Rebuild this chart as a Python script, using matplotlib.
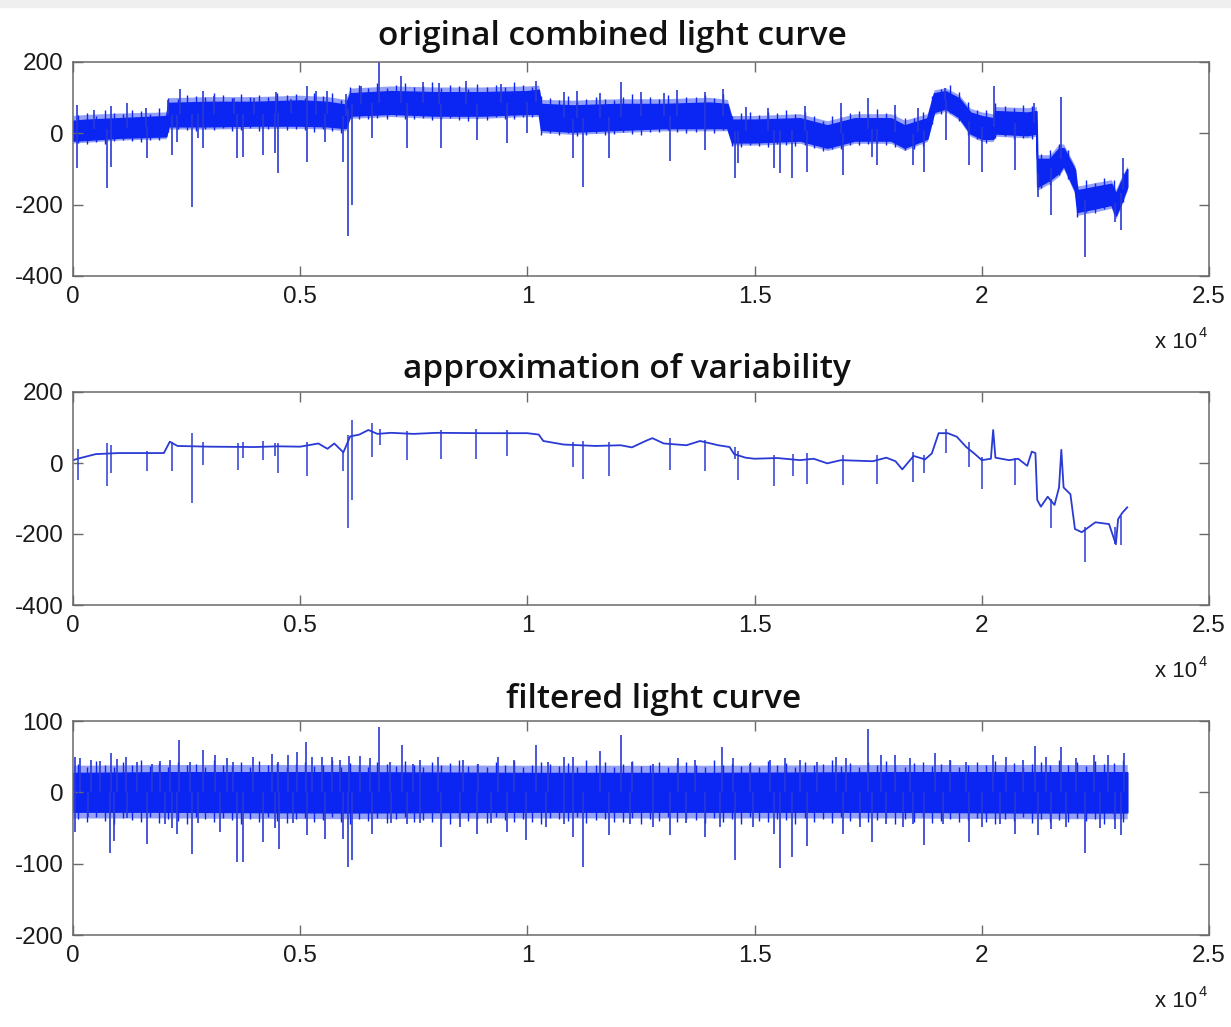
import numpy as np
import matplotlib
matplotlib.use("Agg")
import matplotlib.pyplot as plt
from matplotlib.patches import Rectangle

plt.rcParams["axes.unicode_minus"] = False

# ---------------- data (x in thousands of samples) ----------------
titles = ["original combined light curve", "approximation of variability", "filtered light curve"]
xtick_vals = [0, 5000, 10000, 15000, 20000, 25000]
xtick_labels = ["0", "0.5", "1", "1.5", "2", "2.5"]
yticks_top = [-400, -200, 0, 200]
yticks_bot = [-200, -100, 0, 100]

# panel 1: dense band (solid core edges and outer fringe edges)
p1_x = [0, 0.3, 1.0, 2.05, 2.1, 3.0, 4.0, 5.0, 5.6, 6.0, 6.1, 7.0, 8.0, 9.0, 10.0, 10.25, 10.3,
        11.0, 12.0, 13.0, 14.0, 14.4, 14.5, 15.0, 16.0, 16.6, 17.2, 18.0, 18.3, 18.8, 18.95, 19.2,
        19.5, 19.75, 20.0, 20.25, 20.3, 21.0, 21.2, 21.22, 21.5, 21.7, 21.8, 22.05, 22.1, 22.5,
        22.85, 22.95, 23.05, 23.2]
p1_up = [35, 38, 42, 48, 85, 88, 88, 92, 88, 80, 112, 118, 115, 115, 118, 122, 82,
         78, 82, 82, 86, 82, 38, 38, 42, 22, 42, 42, 22, 42, 112, 118,
         98, 58, 48, 42, 62, 58, 62, -72, -72, -42, -42, -102, -160, -150,
         -142, -170, -140, -100]
p1_lo = [-20, -18, -12, -8, 20, 20, 22, 22, 20, 15, 50, 55, 50, 50, 55, 55, 10,
         5, 10, 15, 15, 15, -25, -25, -20, -40, -20, -20, -40, -15, 60, 70,
         45, 0, -15, -15, 0, -5, 0, -150, -130, -110, -90, -160, -220, -210,
         -200, -230, -200, -150]
p1_fup = [50, 53, 57, 60, 100, 103, 103, 107, 103, 95, 127, 133, 130, 130, 133, 135, 95,
          93, 97, 97, 101, 95, 50, 50, 55, 35, 55, 55, 37, 55, 122, 128,
          108, 70, 60, 55, 75, 72, 75, -60, -60, -30, -30, -90, -148, -138,
          -130, -158, -128, -92]
p1_flo = [-27, -25, -19, -15, 12, 12, 14, 14, 12, 7, 42, 47, 42, 42, 47, 47, 2,
          -3, 2, 7, 7, 7, -33, -33, -28, -48, -28, -28, -48, -23, 52, 62,
          37, -8, -23, -23, -8, -13, -8, -160, -140, -120, -100, -170, -230, -220,
          -210, -240, -210, -160]
p1_dips_x = [0.09, 0.74, 0.83, 1.63, 2.17, 2.28, 2.61, 2.76, 2.87, 3.60, 3.74, 4.19, 4.45, 4.52,
             5.16, 5.54, 5.95, 6.06, 6.15, 6.59, 7.34, 8.09, 8.89, 9.55, 9.99, 11.0, 11.22, 11.8,
             13.14, 13.9, 14.57, 14.64, 15.42, 15.56, 15.82, 16.15, 16.94, 17.58, 17.70, 18.48,
             18.72, 19.21, 19.71, 20.0, 20.73, 21.23, 21.52, 22.27, 22.93, 23.06]
p1_dips_y = [-97, -153, -94, -69, -61, -24, -206, -13, -42, -69, -66, -61, -56, -112,
             -80, -24, -80, -288, -201, -14, -42, -42, -19, -27, 1, -69, -150, -69,
             -77, -47, -125, -83, -97, -111, -125, -108, -117, -66, -89, -89,
             -108, -19, -89, -108, -103, -178, -229, -346, -248, -271]
p1_peaks_x = [0.09, 0.46, 0.83, 1.18, 1.6, 2.1, 2.35, 2.87, 3.1, 3.55, 3.99, 4.46, 4.8, 5.14,
              5.35, 5.6, 6.0, 6.33, 6.74, 7.21, 7.7, 8.05, 8.65, 9.43, 10.2, 10.8, 11.1, 11.6,
              12.06, 12.5, 13.0, 13.3, 13.9, 14.3, 14.8, 15.3, 16.1, 16.9, 17.5, 18.1, 18.6,
              19.2, 20.26, 21.15, 21.75, 23.1]
p1_peaks_y = [80, 65, 77, 84, 70, 93, 123, 119, 105, 100, 100, 115, 95, 134,
              118, 119, 110, 134, 200, 162, 144, 140, 147, 139, 147, 116, 120, 112,
              144, 115, 112, 122, 116, 125, 75, 72, 78, 84, 98, 80, 72,
              127, 133, 84, 102, -70]
# small comb teeth along the band edges, sampled every 200 points from 100 to 23100
p1_teeth_up = [14, 20, 10, 24, 16, 12, 22, 18, 9, 25, 15, 11, 21, 17, 13, 26, 19, 10, 23, 14,
               18, 12, 24, 16, 20, 9, 22, 15, 27, 11, 17, 21, 13, 25, 10, 19, 23, 14, 16, 28,
               12, 20, 18, 9, 24, 15, 21, 13, 26, 17, 11, 22, 19, 14, 25, 10, 18, 23, 16, 12,
               20, 27, 13, 21, 15, 24, 11, 19, 17, 22, 14, 26, 10, 18, 23, 12, 20, 16, 25, 13,
               21, 17, 9, 24, 15, 19, 22, 11, 26, 14, 18, 20, 12, 23, 16, 10, 25, 17, 21, 13,
               19, 24, 15, 11, 22, 18, 14, 26, 12, 20, 16, 23, 10, 19, 25, 15]
p1_teeth_lo = [9, 13, 7, 15, 10, 6, 12, 14, 8, 11, 16, 7, 10, 13, 9, 12, 6, 14, 11, 8,
               15, 10, 7, 13, 9, 12, 16, 8, 11, 14, 6, 10, 13, 9, 15, 7, 12, 11, 8, 14,
               10, 6, 13, 16, 9, 12, 7, 11, 14, 8, 10, 15, 9, 13, 6, 12, 11, 7, 14, 10,
               8, 13, 16, 9, 11, 7, 12, 15, 10, 8, 14, 6, 11, 13, 9, 12, 16, 7, 10, 14,
               8, 11, 13, 6, 15, 9, 12, 10, 7, 14, 11, 8, 13, 16, 9, 12, 6, 10, 15, 8,
               11, 14, 7, 13, 9, 12, 10, 16, 8, 11, 14, 6, 13, 9, 12, 10]

# panel 2: smooth variability curve
p2_x = [0, 0.1, 0.5, 1.0, 2.0, 2.13, 2.3, 3.0, 4.0, 4.5, 5.0, 5.4, 5.6, 5.75, 5.95, 6.1, 6.3,
        6.5, 6.7, 7.0, 7.5, 8.0, 9.0, 10.0, 10.25, 10.35, 10.8, 11.5, 12.05, 12.3, 12.6, 12.75,
        13.0, 13.5, 13.8, 14.2, 14.45, 14.55, 14.8, 15.0, 15.5, 16.0, 16.3, 16.6, 16.9, 17.6,
        17.9, 18.1, 18.25, 18.5, 18.75, 18.9, 19.05, 19.25, 19.45, 19.65, 19.85, 20.0, 20.2,
        20.25, 20.3, 20.6, 20.8, 21.0, 21.1, 21.18, 21.22, 21.3, 21.45, 21.6, 21.7, 21.75,
        21.8, 21.95, 22.05, 22.2, 22.5, 22.8, 22.95, 23.0, 23.1, 23.2]
p2_y = [8, 12, 25, 28, 28, 60, 48, 46, 45, 47, 46, 55, 40, 55, 30, 75, 80,
        93, 82, 85, 82, 85, 84, 84, 80, 62, 52, 48, 50, 44, 62, 70,
        55, 50, 62, 50, 45, 25, 15, 12, 14, 8, 12, -1, 8, 5,
        15, 5, -18, 20, 10, 27, 84, 84, 74, 46, 25, 8, 12,
        93, 15, 8, 12, -8, 32, 28, -104, -123, -95, -118, -69, 37,
        -69, -88, -186, -195, -167, -172, -229, -158, -139, -125]
p2_spk_x = [0.10, 0.74, 0.83, 1.63, 2.17, 2.61, 2.87, 3.64, 3.74, 4.19, 4.45, 4.52, 5.16, 5.95,
            6.06, 6.15, 6.59, 6.75, 7.34, 8.09, 8.87, 9.55, 11.0, 11.22, 11.8, 13.14, 13.9,
            14.57, 14.64, 15.42, 15.84, 16.15, 16.94, 17.7, 18.48, 18.72, 19.21, 19.71, 20.0,
            20.73, 21.52, 22.27, 22.93, 23.06]
p2_spk_lo = [-48, -66, -29, -23, -23, -113, -6, -20, 15, 8, 20, -29, -38, -23,
             -184, -104, 18, 50, 8, 12, 10, 19, -10, -46, -38, -20, -23,
             10, -48, -65, -37, -59, -62, -59, -54, -29, 27, -11, -74,
             -62, -184, -278, -229, -232]
p2_spk_hi = [40, 55, 50, 35, 60, 84, 60, 55, 60, 62, 55, 55, 60, 35,
             80, 121, 114, 95, 90, 92, 95, 92, 60, 62, 58, 70, 65,
             45, 35, 22, 25, 28, 22, 22, 30, 22, 95, 60, 18,
             15, -100, -180, -180, -150]

# panel 3: filtered curve (band about zero)
p3_x = [0, 2.0, 6.0, 10.0, 14.0, 18.0, 21.0, 23.2]
p3_up = [27, 28, 28, 27, 27, 28, 28, 28]
p3_lo = [-27, -27, -28, -27, -27, -27, -28, -28]
p3_fup = [38, 39, 39, 38, 38, 39, 39, 39]
p3_flo = [-36, -36, -37, -36, -36, -36, -37, -37]
p3_peaks_x = [0.04, 0.15, 0.39, 0.59, 0.83, 0.96, 1.16, 1.40, 1.73, 1.91, 2.13, 2.34, 2.57, 2.87,
              3.12, 3.38, 3.53, 3.97, 4.37, 4.52, 4.74, 4.94, 5.12, 5.25, 5.47, 5.69, 5.87, 6.08,
              6.31, 6.54, 6.74, 6.97, 7.23, 7.49, 7.63, 8.04, 8.59, 8.92, 9.36, 9.70, 10.2, 10.46,
              10.8, 11.0, 11.6, 12.06, 12.3, 12.77, 13.32, 13.68, 14.29, 14.53, 14.9, 15.34,
              15.67, 16.0, 16.37, 16.8, 17.02, 17.5, 17.79, 18.08, 18.41, 18.97, 19.3, 19.66,
              20.25, 20.54, 20.9, 21.16, 21.42, 21.75, 22.08, 22.48, 22.77, 23.14]
p3_peaks_y = [50, 48, 46, 44, 55, 47, 50, 42, 40, 44, 46, 73, 42, 59,
              52, 48, 43, 49, 54, 42, 53, 56, 71, 50, 50, 50, 45, 51,
              51, 48, 92, 43, 67, 40, 45, 50, 45, 40, 50, 45, 67, 42,
              50, 50, 58, 80, 42, 40, 48, 45, 64, 48, 40, 45,
              48, 45, 42, 50, 48, 89, 52, 53, 48, 55, 45, 42,
              53, 50, 45, 65, 50, 64, 48, 53, 52, 55]
p3_dips_x = [0.05, 0.33, 0.81, 0.90, 1.18, 1.63, 2.03, 2.17, 2.28, 2.61, 2.76, 3.23, 3.60, 3.74,
             4.19, 4.45, 4.53, 4.85, 5.16, 5.54, 5.95, 6.06, 6.15, 6.59, 7.0, 7.34, 7.63, 8.09,
             8.52, 8.90, 9.2, 9.55, 9.96, 10.4, 10.8, 11.0, 11.22, 11.8, 12.25, 12.77, 13.14,
             13.5, 13.9, 14.23, 14.57, 14.96, 15.42, 15.56, 15.82, 16.15, 16.94, 17.32, 17.58,
             17.9, 18.27, 18.48, 18.72, 19.15, 19.71, 20.0, 20.4, 20.73, 21.23, 21.52, 21.86,
             22.27, 22.6, 22.93, 23.06]
p3_dips_y = [-55, -34, -85, -68, -36, -73, -45, -50, -58, -87, -43, -55, -97, -97,
             -69, -50, -80, -43, -60, -65, -65, -104, -95, -58, -43, -45, -43, -76,
             -48, -58, -43, -55, -67, -48, -45, -62, -104, -60, -45, -48, -60,
             -43, -62, -48, -95, -48, -58, -106, -90, -75, -58, -48, -69,
             -45, -48, -45, -74, -45, -69, -48, -45, -58, -60, -52, -48,
             -85, -50, -52, -60]
# small comb teeth along the band edges, sampled every 200 points from 100 to 23100
p3_teeth_up = [40, 36, 44, 38, 35, 42, 39, 45, 37, 41, 36, 43, 38, 40, 35, 46, 39, 37, 42, 36,
               44, 38, 41, 35, 40, 43, 37, 39, 45, 36, 41, 38, 35, 42, 40, 37, 44, 39, 36, 43,
               38, 41, 45, 37, 40, 35, 42, 39, 44, 36, 38, 43, 40, 37, 41, 35, 46, 39, 42, 36,
               40, 44, 37, 38, 42, 35, 41, 43, 39, 36, 45, 38, 40, 37, 42, 36, 44, 39, 41, 35,
               43, 38, 40, 46, 37, 41, 36, 42, 39, 44, 38, 35, 41, 43, 37, 40, 45, 36, 39, 42,
               38, 44, 37, 41, 35, 40, 43, 39, 46, 38, 42, 37, 44, 40, 41, 45]
p3_teeth_lo = [-38, -42, -35, -40, -44, -36, -39, -41, -34, -43, -37, -40, -45, -35, -38, -42,
               -36, -39, -44, -37, -41, -35, -40, -43, -38, -36, -42, -39, -34, -41, -44, -37,
               -40, -36, -43, -38, -35, -42, -39, -41, -37, -45, -36, -40, -38, -43, -35, -39,
               -42, -37, -41, -44, -36, -38, -40, -35, -43, -39, -37, -42, -41, -36, -44, -38,
               -40, -35, -42, -37, -39, -43, -36, -41, -38, -45, -35, -40, -42, -37, -39, -44,
               -36, -41, -38, -43, -35, -40, -37, -42, -39, -36, -44, -38, -41, -35, -43, -40,
               -37, -42, -39, -36, -41, -44, -38, -40, -35, -43, -37, -42, -39, -41, -36, -40,
               -38, -44, -37, -42]

# ---------------- figure ----------------
W, H = 1231, 1027
fig = plt.figure(figsize=(W / 100, H / 100), dpi=100)
fig.patches.append(Rectangle((0, 1 - 7 / H), 1, 7 / H, transform=fig.transFigure,
                             color="#efefef", zorder=0))

BLUE = "#0b26f2"
FRINGE = "#3f55f0"
SPK = "#2a3ad4"
GRAY = "#6a6a6a"
TICKFONT = "Liberation Sans"

L, R = 73, 1209
axes_px = [(62, 276), (392, 605), (721, 935)]
title_px = [(612, 45), (627, 378), (654, 708)]


def k(a):
    return np.asarray(a, dtype=float) * 1000.0


axs = []
for (top, bot) in axes_px:
    ax = fig.add_axes([L / W, 1 - bot / H, (R - L) / W, (bot - top) / H])
    axs.append(ax)

for i, ax in enumerate(axs):
    ax.set_xlim(0, 25000)
    ax.set_xticks(xtick_vals)
    ax.set_xticklabels(xtick_labels)
    if i < 2:
        ax.set_ylim(-400, 200)
        ax.set_yticks(yticks_top)
    else:
        ax.set_ylim(-200, 100)
        ax.set_yticks(yticks_bot)
    ax.tick_params(direction="in", length=7, width=1.0, color=GRAY, top=True, right=True,
                   labelsize=17.5, pad=7, labelcolor="#1a1a1a")
    for lab in ax.get_xticklabels() + ax.get_yticklabels():
        lab.set_fontfamily(TICKFONT)
    for s in ax.spines.values():
        s.set_color(GRAY)
        s.set_linewidth(1.1)
    fig.text(title_px[i][0] / W, 1 - title_px[i][1] / H, titles[i], ha="center", va="baseline",
             fontsize=24, fontweight="semibold", family="Open Sans", color="#111111")
    bot = axes_px[i][1]
    fig.text(1155 / W, 1 - (bot + 72) / H, "x 10", ha="left", va="baseline",
             fontsize=16, family=TICKFONT, color="#1a1a1a")
    fig.text(1199 / W, 1 - (bot + 61) / H, "4", ha="left", va="baseline",
             fontsize=10.5, family=TICKFONT, color="#1a1a1a")

# panel 1
ax = axs[0]
c1 = (np.asarray(p1_up) + np.asarray(p1_lo)) / 2.0
t1x = k(np.linspace(0.1, 23.1, len(p1_teeth_up)))
t1_up_edge = np.interp(t1x, k(p1_x), p1_up)
t1_lo_edge = np.interp(t1x, k(p1_x), p1_lo)
ax.fill_between(k(p1_x), p1_flo, p1_fup, color=FRINGE, lw=0, alpha=0.55)
ax.vlines(t1x, t1_up_edge - 5, t1_up_edge + np.asarray(p1_teeth_up), color=BLUE, lw=1.0)
ax.vlines(t1x, t1_lo_edge - np.asarray(p1_teeth_lo), t1_lo_edge + 5, color=BLUE, lw=1.0)
ax.vlines(k(p1_dips_x), p1_dips_y, np.interp(k(p1_dips_x), k(p1_x), c1), color=SPK, lw=1.2)
ax.vlines(k(p1_peaks_x), np.interp(k(p1_peaks_x), k(p1_x), c1), p1_peaks_y, color=SPK, lw=1.2)
ax.fill_between(k(p1_x), p1_lo, p1_up, color=BLUE, lw=1.2, edgecolor=BLUE)

# panel 2
ax = axs[1]
ax.vlines(k(p2_spk_x), p2_spk_lo, p2_spk_hi, color=SPK, lw=1.1)
ax.plot(k(p2_x), p2_y, color=SPK, lw=1.3)

# panel 3
ax = axs[2]
t3x = k(np.linspace(0.1, 23.1, len(p3_teeth_up)))
ax.fill_between(k(p3_x), p3_flo, p3_fup, color=FRINGE, lw=0, alpha=0.55)
ax.vlines(t3x, 0, p3_teeth_up, color=BLUE, lw=1.0)
ax.vlines(t3x, p3_teeth_lo, 0, color=BLUE, lw=1.0)
ax.vlines(k(p3_dips_x), p3_dips_y, 0, color=SPK, lw=1.2)
ax.vlines(k(p3_peaks_x), 0, p3_peaks_y, color=SPK, lw=1.2)
ax.fill_between(k(p3_x), p3_lo, p3_up, color=BLUE, lw=1.2, edgecolor=BLUE)

fig.savefig("out.png", dpi=100)
